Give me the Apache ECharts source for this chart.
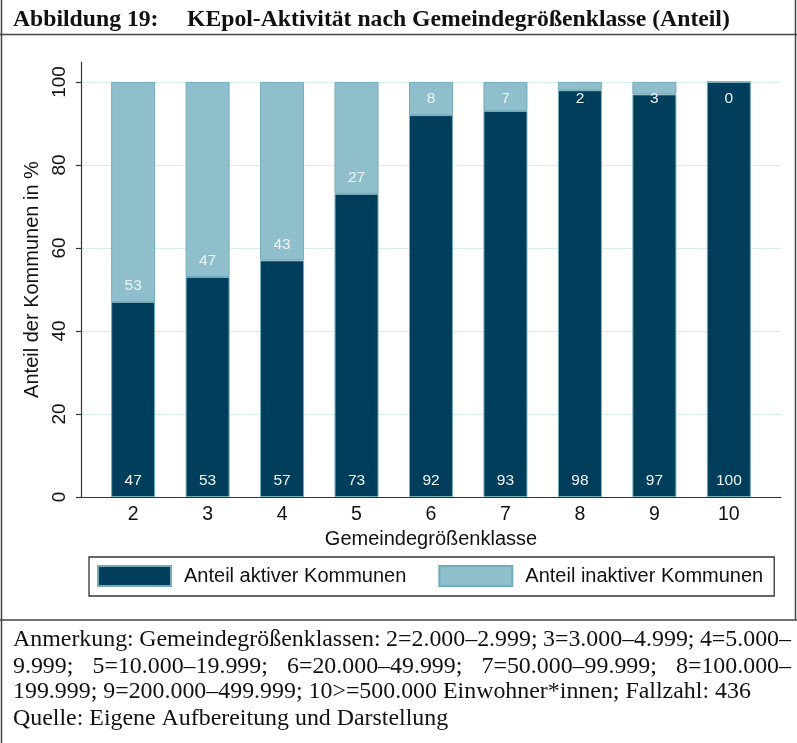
<!DOCTYPE html>
<html>
<head>
<meta charset="utf-8">
<script src="https://cdn.jsdelivr.net/npm/echarts@6/dist/echarts.min.js"></script>
<style>
  html, body { margin: 0; padding: 0; background: #fff; }
  #chart { width: 797px; height: 743px; }
</style>
</head>
<body>
<div id="chart"></div>
<script>
// data
const categories = ['2', '3', '4', '5', '6', '7', '8', '9', '10'];
const aktiv = [47, 53, 57, 73, 92, 93, 98, 97, 100];
const inaktiv = [53, 47, 43, 27, 8, 7, 2, 3, 0];
const yTicks = [0, 20, 40, 60, 80, 100];

const titleLeft = 'Abbildung 19:';
const titleRight = 'KEpol-Aktivität nach Gemeindegrößenklasse (Anteil)';
const noteLines = [
    'Anmerkung: Gemeindegrößenklassen: 2=2.000–2.999; 3=3.000–4.999; 4=5.000–',
    '9.999; 5=10.000–19.999; 6=20.000–49.999; 7=50.000–99.999; 8=100.000–',
    '199.999; 9=200.000–499.999; 10>=500.000 Einwohner*innen; Fallzahl: 436',
    'Quelle: Eigene Aufbereitung und Darstellung'
];

const DARK = '#003e5c';
const LIGHT = '#8fbfcc';
const EDGE = '#74abba';
const GRID = '#d6edf0';
const AXIS = '#333';
const SANS = 'Liberation Sans';
const SERIF = 'Liberation Serif';

const xValues = categories.map(c => Number(c));

// note text: justified lines get their words spread over the full width
const measureCtx = document.createElement('canvas').getContext('2d');
const noteFont = '23.9px "' + SERIF + '"';

function textLine(str, x, y, justifyTo) {
    if (!justifyTo) {
        return [{type: 'text', style: {text: str, x: x, y: y, font: noteFont, fill: '#111', verticalAlign: 'middle'}}];
    }
    measureCtx.font = noteFont;
    const words = str.split(' ');
    const widths = words.map(w => measureCtx.measureText(w).width);
    const total = widths.reduce((a, b) => a + b, 0);
    const gap = (justifyTo - x - total) / (words.length - 1);
    let cx = x;
    return words.map((w, i) => {
        const el = {type: 'text', style: {text: w, x: cx, y: y, font: noteFont, fill: '#111', verticalAlign: 'middle'}};
        cx += widths[i] + gap;
        return el;
    });
}

let noteEls = [];
const noteY = [640, 666.5, 692, 718.5];
noteLines.forEach((line, i) => {
    noteEls = noteEls.concat(textLine(line, 13, noteY[i], i < 2 ? 791 : null));
});

const chart = echarts.init(document.getElementById('chart'), null, {renderer: 'canvas'});

// value first so the stack sums the y values
const aktivData = xValues.map((x, i) => [aktiv[i], x]);
const inaktivData = xValues.map((x, i) => ({
    value: [inaktiv[i], x],
    label: {position: inaktiv[i] >= 8 ? 'insideBottom' : 'insideTop', distance: inaktiv[i] >= 8 ? 8 : 9}
}));

chart.setOption({
    backgroundColor: '#fff',
    animation: false,
    textStyle: {fontFamily: SANS},
    grid: {left: 81, right: 16, top: 62, bottom: 246},
    legend: {
        left: 89,
        top: 557,
        itemWidth: 73,
        itemHeight: 20,
        itemGap: 32,
        icon: 'rect',
        padding: [8, 11, 9, 8],
        borderColor: AXIS,
        borderWidth: 1.3,
        selectedMode: false,
        textStyle: {fontSize: 20, color: '#111', padding: [0, 0, 0, 8]},
        data: ['Anteil aktiver Kommunen', 'Anteil inaktiver Kommunen']
    },
    xAxis: {
        type: 'value',
        min: 1.3,
        max: 10.7,
        name: 'Gemeindegrößenklasse',
        nameLocation: 'middle',
        nameGap: 28,
        nameTextStyle: {fontSize: 20, color: '#111'},
        axisLine: {show: true, lineStyle: {color: AXIS, width: 1.2}},
        axisTick: {show: false},
        splitLine: {show: false},
        axisLabel: {customValues: xValues, fontSize: 19.5, color: '#111', margin: 8}
    },
    yAxis: {
        type: 'value',
        min: 0,
        max: 104.8,
        name: 'Anteil der Kommunen in %',
        nameLocation: 'middle',
        nameRotate: 90,
        nameGap: 35,
        nameTextStyle: {fontSize: 20, color: '#111'},
        axisLine: {show: true, lineStyle: {color: AXIS, width: 1.2}},
        axisTick: {show: true, length: 5, customValues: yTicks, lineStyle: {color: AXIS, width: 1.2}},
        axisLabel: {customValues: yTicks, rotate: 90, fontSize: 19, color: '#111', margin: 12},
        splitLine: {show: true, customValues: yTicks, lineStyle: {color: GRID, width: 1.2}}
    },
    series: [
        {
            name: 'Anteil aktiver Kommunen',
            type: 'bar',
            stack: 'anteil',
            barWidth: 44,
            encode: {x: 1, y: 0},
            itemStyle: {color: DARK, borderColor: EDGE, borderWidth: 1},
            label: {
                show: true, position: 'insideBottom', distance: 8,
                fontSize: 15.5, color: '#eef4f6',
                formatter: p => p.value[0]
            },
            data: aktivData
        },
        {
            name: 'Anteil inaktiver Kommunen',
            type: 'bar',
            stack: 'anteil',
            barWidth: 44,
            encode: {x: 1, y: 0},
            itemStyle: {color: LIGHT, borderColor: EDGE, borderWidth: 1},
            label: {
                show: true, distance: 8,
                fontSize: 15.5, color: '#eef4f6',
                formatter: p => p.value[0]
            },
            data: inaktivData
        }
    ],
    graphic: [
        {type: 'line', shape: {x1: 1.5, y1: 0, x2: 1.5, y2: 743}, style: {stroke: '#444', lineWidth: 1.5}},
        {type: 'line', shape: {x1: 795.5, y1: 0, x2: 795.5, y2: 620}, style: {stroke: '#444', lineWidth: 1.5}},
        {type: 'line', shape: {x1: 0, y1: 34.5, x2: 797, y2: 34.5}, style: {stroke: '#444', lineWidth: 1.5}},
        {type: 'line', shape: {x1: 0, y1: 620, x2: 797, y2: 620}, style: {stroke: '#444', lineWidth: 1.5}},
        {type: 'text', style: {text: titleLeft, x: 13, y: 19.5, font: 'bold 23.7px "' + SERIF + '"', fill: '#111', verticalAlign: 'middle'}},
        {type: 'text', style: {text: titleRight, x: 187, y: 19.5, font: 'bold 23.7px "' + SERIF + '"', fill: '#111', verticalAlign: 'middle'}}
    ].concat(noteEls)
});
</script>
</body>
</html>
